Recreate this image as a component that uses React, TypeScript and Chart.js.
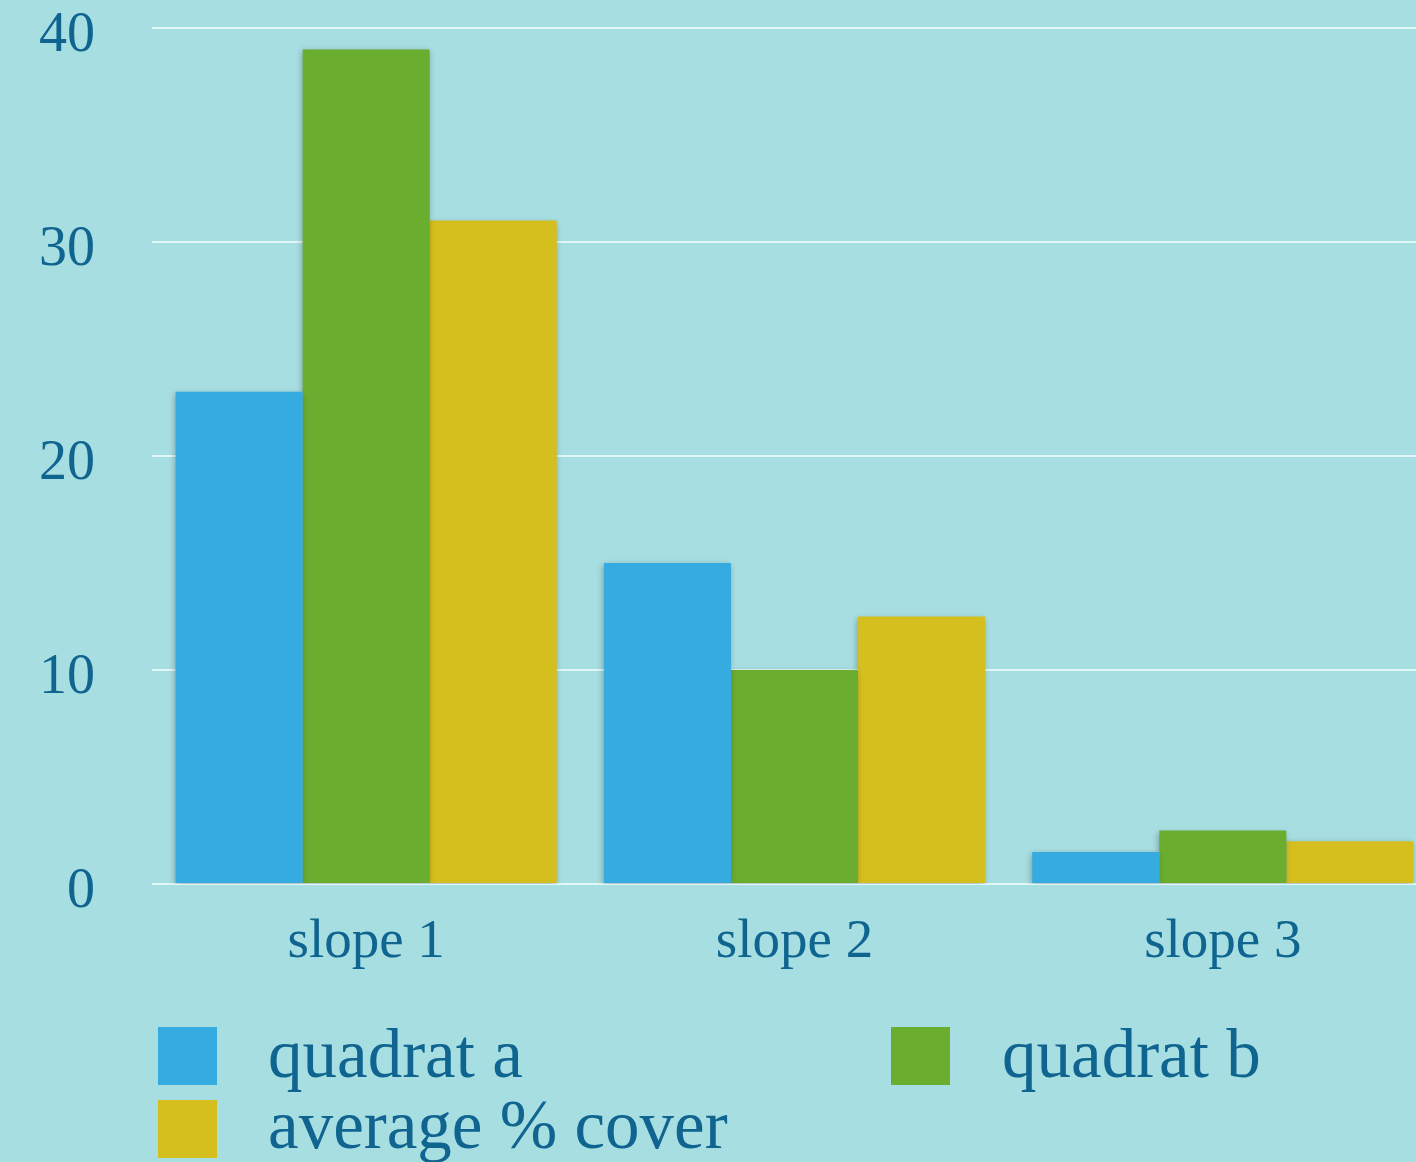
import React, { useEffect, useRef } from "react";
import { Chart, registerables } from "chart.js";

Chart.register(...registerables);

const categories = ["slope 1", "slope 2", "slope 3"];
const quadratA = [23, 15, 1.5];
const quadratB = [39, 10, 2.5];
const averageCover = [31, 12.5, 2];
const seriesNames = ["quadrat a", "quadrat b", "average % cover"];
const seriesColors = ["#36abe0", "#6aad2f", "#d5bf1f"];
const yTicks = [0, 10, 20, 30, 40];

const TEXT = "#0f6590";
const FONT = "'Liberation Serif', 'DejaVu Serif', serif";

const shadowPlugin = {
  id: "barShadow",
  beforeDatasetsDraw(chart: any) {
    const ctx = chart.ctx;
    ctx.save();
    ctx.shadowColor = "rgba(0,0,0,0.28)";
    ctx.shadowBlur = 6;
    ctx.shadowOffsetX = -1;
    ctx.shadowOffsetY = 2;
  },
  afterDatasetsDraw(chart: any) {
    chart.ctx.restore();
  },
};

export default function App() {
  const ref = useRef<HTMLCanvasElement | null>(null);

  useEffect(() => {
    if (!ref.current) return;
    const chart = new Chart(ref.current, {
      type: "bar",
      data: {
        labels: categories,
        datasets: [quadratA, quadratB, averageCover].map((d, i) => ({
          label: seriesNames[i],
          data: d,
          backgroundColor: seriesColors[i],
          borderWidth: 0,
          categoryPercentage: 0.89,
          barPercentage: 1,
        })),
      },
      plugins: [shadowPlugin],
      options: {
        animation: false,
        responsive: false,
        maintainAspectRatio: false,
        layout: { padding: { top: 28, right: 3, left: 0, bottom: 0 } },
        plugins: {
          legend: { display: false },
          tooltip: { enabled: false },
        },
        scales: {
          x: {
            grid: { display: false, drawTicks: false },
            border: { display: false },
            ticks: {
              color: TEXT,
              font: { family: FONT, size: 55 },
              padding: 26,
            },
            afterFit: (s: any) => {
              s.height = 278;
              s.paddingLeft = 0;
              s.paddingRight = 0;
            },
          },
          y: {
            min: 0,
            max: 40,
            afterBuildTicks: (s: any) => {
              s.ticks = yTicks.map((v) => ({ value: v }));
            },
            grid: {
              color: "rgba(235,250,250,0.85)",
              lineWidth: 2,
              drawTicks: false,
            },
            border: { display: false },
            ticks: {
              color: TEXT,
              font: { family: FONT, size: 56 },
              padding: 57,
              labelOffset: 8,
            },
            afterFit: (s: any) => {
              s.width = 152;
              s.paddingTop = 0;
              s.paddingBottom = 0;
            },
          },
        },
      },
    });
    return () => chart.destroy();
  }, []);

  const legendText: React.CSSProperties = {
    position: "absolute",
    fontFamily: FONT,
    fontSize: 69,
    lineHeight: "69px",
    color: TEXT,
    whiteSpace: "nowrap",
  };
  const box = (left: number, top: number, color: string): React.CSSProperties => ({
    position: "absolute",
    left,
    top,
    width: 59,
    height: 58,
    background: color,
  });

  return (
    <div
      style={{
        position: "fixed",
        left: 0,
        top: 0,
        width: 1416,
        height: 1162,
        overflow: "hidden",
        background: "#a7dee1",
      }}
    >
      <canvas ref={ref} width={1440} height={1162} style={{ position: "absolute", left: 0, top: 0 }} />
      <div style={box(158, 1027, seriesColors[0])} />
      <div style={{ ...legendText, left: 268, top: 1020 }}>{seriesNames[0]}</div>
      <div style={box(891, 1027, seriesColors[1])} />
      <div style={{ ...legendText, left: 1002, top: 1020 }}>{seriesNames[1]}</div>
      <div style={box(158, 1100, seriesColors[2])} />
      <div style={{ ...legendText, left: 268, top: 1091 }}>{seriesNames[2]}</div>
    </div>
  );
}
